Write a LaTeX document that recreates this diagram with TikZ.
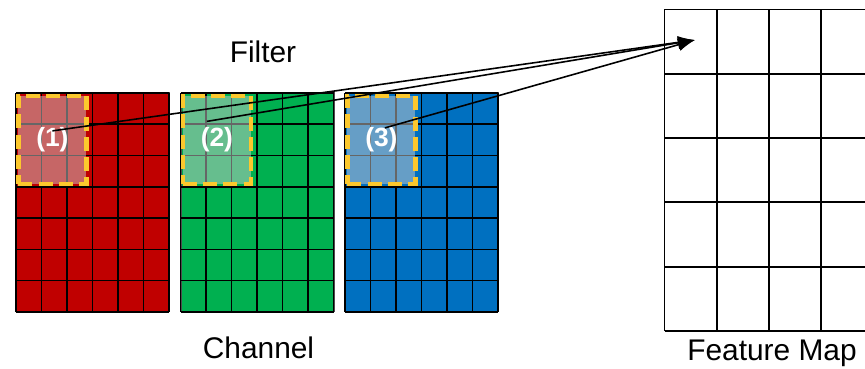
\documentclass[tikz,border=0pt]{standalone}
\usepackage{fontspec}
\setsansfont{Liberation Sans}
\usetikzlibrary{arrows.meta,calc}
\definecolor{chred}{RGB}{192,0,0}
\definecolor{chgreen}{RGB}{0,176,80}
\definecolor{chblue}{RGB}{0,112,192}
\definecolor{fyellow}{RGB}{252,200,45}
\begin{document}
\begin{tikzpicture}[font=\sffamily, >={Latex[length=3.4mm,width=2.6mm]},
          chan/.style={draw=black!70, line width=0.5pt, minimum width=3.06cm, minimum height=4.382cm, inner sep=0pt, anchor=south west},
          cell/.style={line width=0.85pt},
          filt/.style={draw=fyellow, line width=2.7pt, dash pattern=on 8pt off 3.5pt, fill=black!20, fill opacity=0.5, minimum width=1.36cm, minimum height=1.76cm, inner sep=0pt, anchor=north west},
          num/.style={text=white, font=\sffamily\bfseries\fontsize{15}{17}\selectfont},
          lbl/.style={font=\sffamily\fontsize{17}{20}\selectfont, anchor=base, inner sep=0pt},
          fm/.style={line width=1.1pt},
          arr/.style={->, line width=0.9pt}]
        \useasboundingbox (0,0) rectangle (17.3,7.36);
        \clip (0,0) rectangle (17.3,7.36);
        % three input channels, each with its 3x3 filter window
        \foreach \k/\col/\x/\dx/\dy in {1/chred/0.32/0/0.18, 2/chgreen/3.61/-0.2/0.37, 3/chblue/6.90/0.07/0.24} {
          \node[chan, fill=\col] (ch\k) at (\x,1.12) {};
          \draw[cell, shift={(\x,1.12)}, xscale=0.51, yscale=0.626] (0,0) grid (6,7);
          \node[filt] (f\k) at ($(ch\k.north west)+(0,-0.03)$) {};
          \node[num] (n\k) at (f\k.center) {(\k)};
          \coordinate (s\k) at ($(f\k.center)+(\dx,\dy)$);
        }
        % output feature map
        \begin{scope}[shift={(13.29,0.74)}, xscale=1.046, yscale=1.286]
          \draw[fm] (0,0) grid (5,5);
        \end{scope}
        \coordinate (out) at (13.90,6.56);
        \foreach \k in {1,2,3}
          \draw[arr] (s\k) -- (out);
        \node[lbl] (filter) at (5.26,6.11) {Filter};
        \node[lbl] (channel) at (5.17,0.20) {Channel};
        \node[lbl] (fmap) at (15.44,0.16) {Feature Map};
      \end{tikzpicture}
\end{document}
